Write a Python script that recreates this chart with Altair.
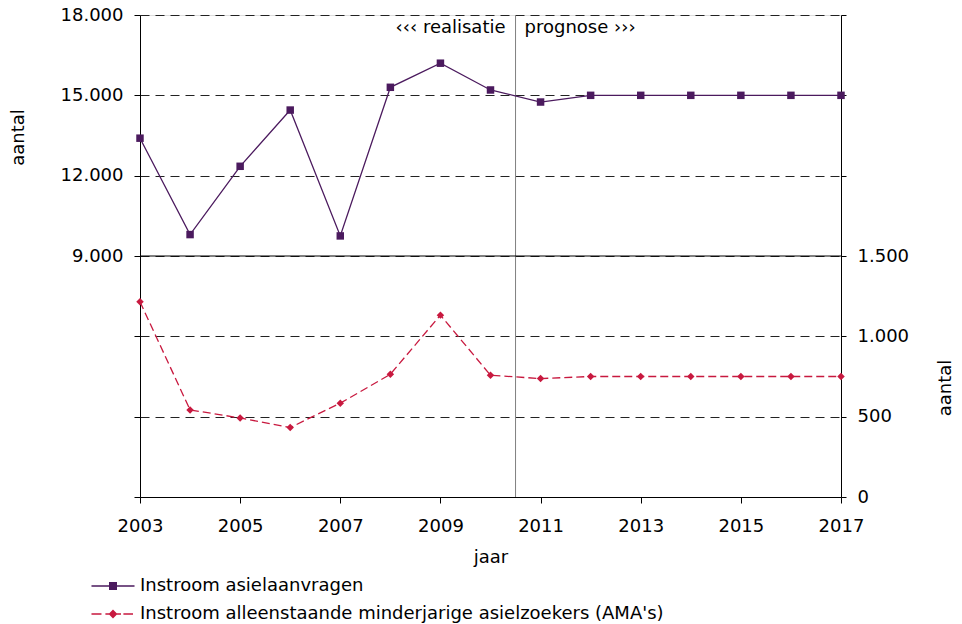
import altair as alt
import pandas as pd

years = list(range(2003, 2018))
asiel = [13400, 9800, 12350, 14450, 9750, 15300, 16200, 15200, 14750,
         15000, 15000, 15000, 15000, 15000, 15000]
ama = [1215, 542, 492, 432, 584, 764, 1132, 758, 737,
       750, 750, 750, 750, 750, 750]
series_names = ["Instroom asielaanvragen",
                "Instroom alleenstaande minderjarige asielzoekers (AMA's)"]
annotations = ["‹‹‹ realisatie", "prognose ›››"]
split_year = [2010.5]
mid_line = [9000]
annot_level = [17500]
x_tick_years = list(range(2003, 2018, 2))
left_ticks = list(range(0, 18001, 3000))
right_ticks = list(range(0, 3001, 500))

PURPLE = "#4B1A5E"
RED = "#C8193F"
FONT = "DejaVu Sans"
FS = 18

df_a = pd.DataFrame({"jaar": years, "aantal": asiel, "serie": series_names[0]})
df_b = pd.DataFrame({"jaar": years, "aantal": ama, "serie": series_names[1]})
df_all = pd.concat([df_a, df_b], ignore_index=True)
df_split = pd.DataFrame({"jaar": split_year})
df_mid = pd.DataFrame({"aantal": mid_line})
df_txt_l = pd.DataFrame({"jaar": split_year, "aantal": annot_level, "t": [annotations[0]]})
df_txt_r = pd.DataFrame({"jaar": split_year, "aantal": annot_level, "t": [annotations[1]]})

x_scale = alt.Scale(domain=[2003, 2017], nice=False, zero=False)
x_enc = alt.X("jaar:Q", scale=x_scale,
              axis=alt.Axis(values=x_tick_years, format="d", grid=False,
                            labelFlush=False,
                            tickSize=6, tickColor="black", domainColor="black",
                            labelPadding=14, labelFontSize=FS, labelColor="black",
                            labelFont=FONT,
                            title="jaar", titleFontSize=FS, titleFontWeight="normal",
                            titleColor="black", titleFont=FONT,
                            titleY=60, titleBaseline="middle"))

left_scale = alt.Scale(domain=[0, 18000], nice=False, zero=True)
right_scale = alt.Scale(domain=[0, 3000], nice=False, zero=True)

fmt = "replace(format(datum.value, ','), ',', '.')"
left_axis = alt.Axis(values=left_ticks,
                     labelExpr=f"datum.value >= 9000 ? {fmt} : ''",
                     grid=True, gridDash=[9, 6], gridColor="#222", gridWidth=1,
                     domainColor="black", tickColor="black", tickSize=6,
                     labelPadding=11, labelFontSize=FS, labelColor="black",
                     labelFont=FONT,
                     title="aantal", titleFontSize=FS, titleFontWeight="normal",
                     titleColor="black", titleFont=FONT,
                     titleX=-121.5, titleY=122, titleAngle=270,
                     titleAlign="center", titleBaseline="middle")
right_axis = alt.Axis(values=right_ticks, orient="right",
                      labelExpr=f"datum.value <= 1500 ? {fmt} : ''",
                      grid=False,
                      domainColor="black", tickColor="black", tickSize=5,
                      labelPadding=11, labelFontSize=FS, labelColor="black",
                      labelFont=FONT,
                      title="aantal", titleFontSize=FS, titleFontWeight="normal",
                      titleColor="black", titleFont=FONT,
                      titleX=104, titleY=372.5, titleAngle=270,
                      titleAlign="center", titleBaseline="middle")

# left group (asielaanvragen)
a_base = alt.Chart(df_a).encode(
    x=x_enc,
    y=alt.Y("aantal:Q", scale=left_scale, axis=left_axis),
)
a_line = a_base.mark_line(color=PURPLE, strokeWidth=1.3)
a_pts = a_base.mark_point(shape="square", filled=True, size=56, color=PURPLE, opacity=1)

rule_mid = alt.Chart(df_mid).mark_rule(color="black", strokeWidth=1).encode(
    y=alt.Y("aantal:Q"))
rule_split = alt.Chart(df_split).mark_rule(color="#808080", strokeWidth=1).encode(
    x=alt.X("jaar:Q"))

txt_left = alt.Chart(df_txt_l).mark_text(align="right", baseline="middle", dx=-10,
                                         fontSize=FS, font=FONT, color="black").encode(
    x="jaar:Q", y="aantal:Q", text="t:N")
txt_right = alt.Chart(df_txt_r).mark_text(align="left", baseline="middle", dx=9,
                                          fontSize=FS, font=FONT, color="black").encode(
    x="jaar:Q", y="aantal:Q", text="t:N")

# legend symbols: line + marker drawn as filled paths (scale = 8 px per unit)
sym_a = ("M-2.69,-0.09H2.69V0.09H-2.69Z"
         "M-0.5,-0.5H0.5V0.5H-0.5Z")
sym_b = ("M-2.69,-0.1H-1.44V0.1H-2.69Z"
         "M-0.95,-0.1H1.0V0.1H-0.95Z"
         "M1.3,-0.1H2.5V0.1H1.3Z"
         "M0,-0.55L0.55,0L0,0.55L-0.55,0Z")

leg = alt.Legend(title=None, orient="none", legendX=-36, legendY=562,
                 direction="vertical", symbolSize=256, symbolStrokeWidth=0,
                 symbolOpacity=1, labelFontSize=FS, labelFont=FONT,
                 labelColor="black", labelOffset=18, rowPadding=10, padding=0,
                 labelLimit=800)
legend_layer = alt.Chart(df_all).transform_filter("false").mark_point(
    filled=True, opacity=1).encode(
    x="jaar:Q",
    y=alt.Y("aantal:Q"),
    color=alt.Color("serie:N", scale=alt.Scale(domain=series_names, range=[PURPLE, RED]),
                    legend=leg),
    shape=alt.Shape("serie:N", scale=alt.Scale(domain=series_names, range=[sym_a, sym_b]),
                    legend=leg),
)

left_group = alt.layer(rule_split, rule_mid, a_line, a_pts, txt_left, txt_right,
                       legend_layer)

# right group (AMA's)
b_base = alt.Chart(df_b).encode(
    x=x_enc,
    y=alt.Y("aantal:Q", scale=right_scale, axis=right_axis),
)
b_line = b_base.mark_line(color=RED, strokeWidth=1.3, strokeDash=[8, 4])
b_pts = b_base.mark_point(shape="diamond", filled=True, size=56, color=RED, opacity=1)
right_group = alt.layer(b_line, b_pts)

chart = alt.layer(left_group, right_group).resolve_scale(
    y="independent"
).properties(
    width=701, height=482,
    padding={"left": 132, "top": 7, "right": 113, "bottom": 127},
    autosize=alt.AutoSizeParams(type="none"),
).configure_view(
    stroke="black", strokeWidth=1
).configure(
    font=FONT
)

chart.save("out.html", embed_options={"renderer": "svg", "actions": False})
